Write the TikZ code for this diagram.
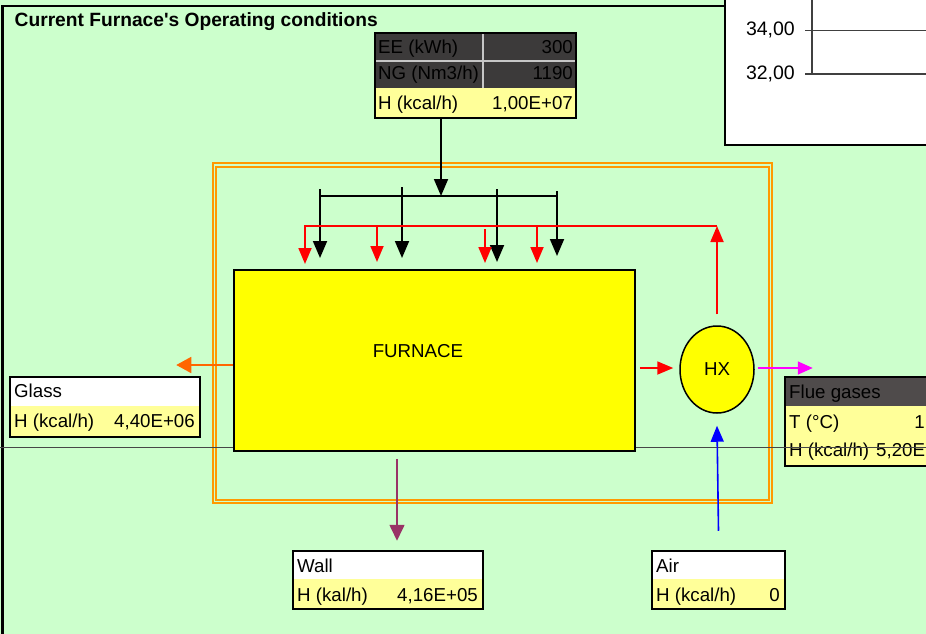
\documentclass[tikz,border=0pt]{standalone}
\usepackage{fontspec}
\setmainfont{Liberation Sans}
\usetikzlibrary{arrows.meta,shapes.geometric,calc}
\definecolor{bg}{HTML}{CCFFCC}
\definecolor{lyel}{HTML}{FFFF99}
\definecolor{dgray}{HTML}{3C3A3A}
\definecolor{fgray}{HTML}{4F4B4B}
\definecolor{dtext}{HTML}{000000}
\definecolor{forange}{HTML}{FF9900}
\definecolor{arrorange}{HTML}{FF6600}
\definecolor{wallc}{HTML}{993366}
\definecolor{magc}{HTML}{FF00FF}
\definecolor{furny}{HTML}{FFFF00}
\definecolor{axisc}{HTML}{404040}
\begin{document}
\begin{tikzpicture}[x=1pt,y=-1pt,
  every node/.style={font=\fontsize{18.7}{20}\selectfont},
  txt/.style={inner sep=0pt, anchor=base west},
  val/.style={inner sep=0pt, anchor=base east},
  databox/.style={draw=black, line width=2.5pt, rectangle, inner sep=0pt},
  blkarr/.style={draw=black, line width=1.8pt, -{Triangle[length=17pt,width=14pt]}},
  blkline/.style={draw=black, line width=1.8pt},
  redarr/.style={draw=red, line width=1.8pt, -{Triangle[length=16pt,width=13pt]}},
  orgarr/.style={draw=arrorange, line width=1.6pt, -{Triangle[length=15pt,width=16pt]}},
  magarr/.style={draw=magc, line width=1.6pt, -{Triangle[length=15pt,width=13pt]}},
  bluearr/.style={draw=blue, line width=1.6pt, -{Triangle[length=16pt,width=13pt]}},
  wallarr/.style={draw=wallc, line width=1.6pt, -{Triangle[length=16pt,width=15pt]}},
  frameline/.style={draw=forange, line width=1.3pt},
]
\useasboundingbox (0,0) rectangle (926,634);
\clip (0,0) rectangle (926,634);
\fill[bg] (0,0) rectangle (926,634);
% outer frame
\draw[line width=2.6pt] (2.5,6) rectangle (1000,1000);
% title
\node[txt, font=\bfseries\fontsize{19.2}{20}\selectfont] (title) at (14.5,26.5) {Current Furnace\textquotesingle s Operating conditions};

% chart fragment
\fill[white] (725,-5) rectangle (940,145);
\draw[line width=1.8pt] (725,-5) rectangle (940,145);
\draw[axisc, line width=0.9pt] (805,30) -- (940,30);
\draw[axisc, line width=1.3pt] (812,-3) -- (812,74) -- (940,74);
\draw[axisc, line width=1.3pt] (805,74) -- (812,74);
\node[val, font=\fontsize{19.5}{20}\selectfont] (l34) at (795,36) {34,00};
\node[val, font=\fontsize{19.5}{20}\selectfont] (l32) at (795,80) {32,00};

% orange frame
\draw[frameline] (213,163) rectangle (772,503);
\draw[frameline] (216,167) rectangle (769,500);

% flue gases box (partly cut off)
\fill[fgray] (785,377) rectangle (960,406);
\fill[lyel] (785,406) rectangle (960,466);
\node[databox, minimum width=175, minimum height=89] (flue) at (872.5,421.5) {};
\node[txt, text=dtext] (fl1) at (789,398) {Flue gases};
\node[txt] (fl2) at (789,428) {T (°C)};
\node[val] (fl2v) at (925,428) {1};
\node[txt] (fl3) at (789,456) {H (kcal/h)};
\node[txt] (fl3v) at (876,456) {5,20E};

% long gray line
\draw[gray!55!black, line width=1pt] (0,447) -- (926,447);

% furnace and HX
\node[draw=black, line width=1.5pt, fill=furny, minimum width=401, minimum height=181, inner sep=0pt] (furnace) at (434.5,360.5) {};
\node[anchor=base] (furnlbl) at (418,357) {FURNACE};
\node[draw=black, line width=1.5pt, fill=furny, ellipse, minimum width=74, minimum height=87, inner sep=0pt] (hx) at (717,369.5) {HX};

% top input table
\fill[dgray] (375,33) rectangle (576,88);
\fill[lyel] (375,88) rectangle (576,118);
\draw[gray!45, line width=1.5pt] (375,61) -- (576,61);
\draw[gray!45, line width=1.5pt] (483,33) -- (483,88);
\node[databox, minimum width=201, minimum height=85] (tab) at (475.5,75.5) {};
\node[txt, text=dtext] (ee) at (378,53) {EE (kWh)};
\node[val, text=dtext] (eev) at (573,53) {300};
\node[txt, text=dtext] (ng) at (378,80) {NG (Nm3/h)};
\node[val, text=dtext] (ngv) at (573,80) {1190};
\node[txt] (hh) at (378,109) {H (kcal/h)};
\node[val] (hhv) at (573,109) {1,00E+07};

% black distribution
\coordinate (feed) at (441,196);
\draw[blkarr] (tab.south -| feed) -- (feed);
\draw[blkline] (320,196) -- (557,196);
\draw[blkarr] (320,189) -- (320,258);
\draw[blkarr] (402,187) -- (402,258);
\draw[blkarr] (497,189) -- (497,262);
\draw[blkarr] (557,191) -- (557,256);

% red recirculation
\coordinate (rtop) at (717,226);
\draw[redarr] ([yshift=11pt]hx.north) -- (rtop);
\draw[redarr] (rtop) -- (305,226) -- (305,264);
\draw[redarr] (377,226) -- (377,262);
\draw[redarr] (485,229) -- (485,263);
\draw[redarr] (537,226) -- (537,263);

% side streams
\draw[redarr] ($(furnace.east |- hx.center)+(4,-1.5)$) -- ($(hx.west)+(-6,-1.5)$);
\draw[magarr] ($(hx.east)+(3,-1.5)$) -- ++(55,0);
\draw[orgarr] ([yshift=-4.5pt]furnace.west) -- ++(-57,0);

% glass box
\fill[white] (10,377) rectangle (200,406);
\fill[lyel] (10,406) rectangle (200,437);
\node[databox, minimum width=190, minimum height=60] (glass) at (105,407) {};
\node[txt] (g1) at (14,397) {Glass};
\node[txt] (g2) at (14,427) {H (kcal/h)};
\node[val] (g2v) at (195,427) {4,40E+06};

% wall box
\fill[white] (293,551) rectangle (483,579);
\fill[lyel] (293,579) rectangle (483,609);
\node[databox, minimum width=190, minimum height=58] (wall) at (388,580) {};
\node[txt] (w1) at (297,572) {Wall};
\node[txt] (w2) at (297,601) {H (kal/h)};
\node[val] (w2v) at (478,601) {4,16E+05};

% air box
\fill[white] (652,551) rectangle (785,579);
\fill[lyel] (652,579) rectangle (785,609);
\node[databox, minimum width=133, minimum height=58] (air) at (718.5,580) {};
\node[txt] (a1) at (656,572) {Air};
\node[txt] (a2) at (656,601) {H (kcal/h)};
\node[val] (a2v) at (780,601) {0};

% wall and air arrows
\draw[wallarr] ([shift={(-37.5,7)}]furnace.south) -- ([shift={(9,-9)}]wall.north);
\draw[bluearr] ([yshift=19pt]air.north) -- ([yshift=-12pt]hx.south);
\end{tikzpicture}
\end{document}
